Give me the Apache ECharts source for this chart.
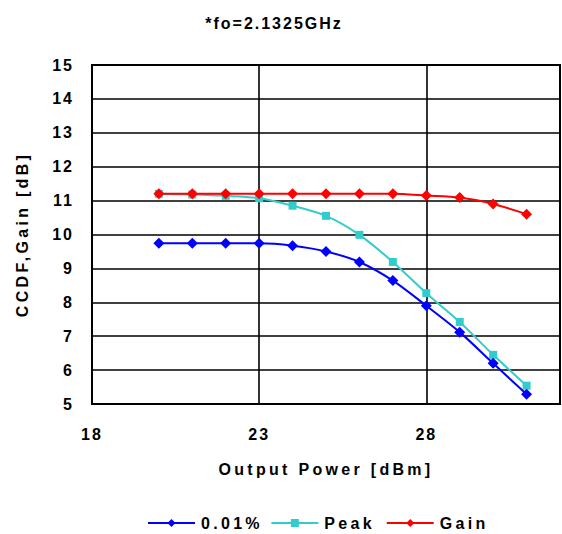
<!DOCTYPE html>
<html><head><meta charset="utf-8">
<script src="https://cdn.jsdelivr.net/npm/echarts@6/dist/echarts.min.js"></script>
<style>html,body{margin:0;padding:0;background:#fff}#c{width:562px;height:534px}#c text{letter-spacing:2px;font-weight:bold}</style>
</head><body><div id="c"></div>
<script>
const xValues = [20,21,22,23,24,25,26,27,28,29,30,31];
const ccdf001 = [9.74,9.74,9.74,9.74,9.67,9.5,9.19,8.64,7.9,7.12,6.2,5.29];
const peak = [11.2,11.18,11.14,11.07,10.85,10.55,9.99,9.19,8.27,7.42,6.45,5.54];
const gain = [11.2,11.2,11.2,11.2,11.2,11.2,11.2,11.2,11.15,11.09,10.9,10.6];
const seriesNames = ['0.01%','Peak','Gain'];
const titleText = '*fo=2.1325GHz';
const xName = 'Output Power [dBm]';
const yName = 'CCDF,Gain [dB]';
const pair = a => xValues.map((x,i)=>[x,a[i]]);
const F = "'Liberation Sans', Arial, sans-serif";
const chart = echarts.init(document.getElementById('c'), null, {renderer:'svg'});
chart.setOption({
  animation:false,
  title:{text:titleText,left:269,top:10,textAlign:'center',textStyle:{fontFamily:F,fontSize:16,fontWeight:'bold',color:'#000'}},
  grid:{left:92,top:65,width:468,height:339,show:true,borderColor:'#000',borderWidth:2},
  xAxis:{type:'value',min:18,max:32,interval:5,
    name:xName,nameLocation:'middle',nameGap:57,
    nameTextStyle:{fontFamily:F,fontSize:16,fontWeight:'bold',color:'#000'},
    axisLine:{show:false},axisTick:{show:false},
    axisLabel:{fontFamily:F,fontSize:16,fontWeight:'bold',color:'#000',margin:22,showMaxLabel:false},
    splitLine:{show:true,lineStyle:{color:'#000',width:1.6}}},
  yAxis:{type:'value',min:5,max:15,interval:1,
    name:yName,nameLocation:'middle',nameGap:62,
    nameTextStyle:{fontFamily:F,fontSize:16,fontWeight:'bold',color:'#000'},
    axisLine:{show:false},axisTick:{show:false},
    axisLabel:{fontFamily:F,fontSize:16,fontWeight:'bold',color:'#000',margin:18},
    splitLine:{show:true,lineStyle:{color:'#000',width:1.6}}},
  legend:{top:515,left:147,padding:0,itemWidth:47,itemHeight:10,itemGap:24,
    textStyle:{fontFamily:F,fontSize:16,fontWeight:'bold',color:'#000',padding:[0,0,0,1]},
    data:seriesNames},
  series:[
    {name:seriesNames[0],type:'line',data:pair(ccdf001),smooth:0.3,symbol:'diamond',symbolSize:11,
      lineStyle:{color:'#0000ff',width:2},itemStyle:{color:'#0000ff'},z:3},
    {name:seriesNames[1],type:'line',data:pair(peak),smooth:0.3,symbol:'rect',symbolSize:8,
      lineStyle:{color:'#33cccc',width:2},itemStyle:{color:'#33cccc'},z:2},
    {name:seriesNames[2],type:'line',data:pair(gain),smooth:0.3,symbol:'diamond',symbolSize:11,
      lineStyle:{color:'#ff0000',width:2},itemStyle:{color:'#ff0000'},z:4}
  ]
});
const wide = [xName, yName].concat(seriesNames);
document.querySelectorAll('#c text').forEach(t => {
  if (wide.indexOf(t.textContent) >= 0) t.style.letterSpacing = '3.3px';
});
</script></body></html>
